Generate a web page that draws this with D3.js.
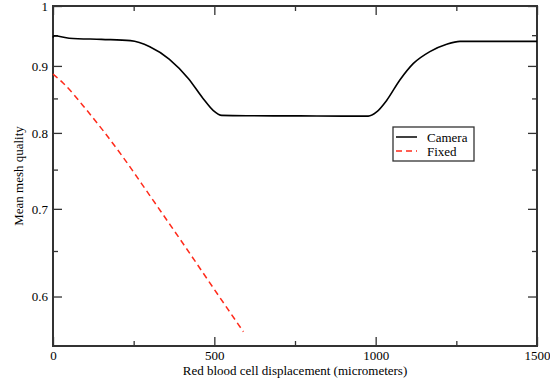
<!DOCTYPE html>
<html>
<head>
<meta charset="utf-8">
<script src="https://cdn.jsdelivr.net/npm/d3@7"></script>
<style>
html,body{margin:0;padding:0;background:#fff;}
svg{display:block;}
text{font-family:"Liberation Serif","Times New Roman",serif;fill:#000;}
</style>
</head>
<body>
<svg id="chart" width="550" height="382"></svg>
<script>
// Data
const cameraX = [0, 3, 50, 150, 240, 300, 360, 420, 465, 497, 523, 600, 765, 900, 977, 1003, 1034, 1075, 1117, 1168, 1220, 1261, 1350, 1500];
const cameraY = [0.946, 0.949, 0.945, 0.943, 0.941, 0.931, 0.911, 0.880, 0.850, 0.832, 0.825, 0.8245, 0.8243, 0.824, 0.824, 0.830, 0.847, 0.878, 0.904, 0.923, 0.935, 0.9397, 0.9397, 0.9397];
const fixedX = [0, 32, 104, 213, 301, 404, 507, 590];
const fixedY = [0.887, 0.873, 0.833, 0.769, 0.716, 0.658, 0.604, 0.564];
const xMajorTicks = [0, 500, 1000, 1500];
const xMinorTicks = [250, 750, 1250];
const yMajorTicks = [0.6, 0.7, 0.8, 0.9, 1];
const yMinorTicks = [0.65, 0.75, 0.85, 0.95];
const seriesNames = ["Camera", "Fixed"];

const svg = d3.select("#chart");
const L = 53, R = 537, T = 6, B = 346;
const x = d3.scaleLinear().domain([0, 1500]).range([L, R]);
const y = d3.scaleLog().domain([0.55, 1]).range([B, T]);

const axisColor = "#333";
const fmtY = d => d === 1 ? "1" : d3.format(".1f")(d);

// axes with inward ticks
const gB = svg.append("g").attr("transform", `translate(0,${B})`)
  .call(d3.axisBottom(x).tickValues(xMajorTicks).tickSizeInner(-9).tickSizeOuter(0).tickPadding(5).tickFormat(d3.format("d")));
const gBm = svg.append("g").attr("transform", `translate(0,${B})`)
  .call(d3.axisBottom(x).tickValues(xMinorTicks).tickSizeInner(-5).tickSizeOuter(0).tickFormat(""));
const gT = svg.append("g").attr("transform", `translate(0,${T})`)
  .call(d3.axisTop(x).tickValues(xMajorTicks).tickSizeInner(-9).tickSizeOuter(0).tickFormat(""));
const gTm = svg.append("g").attr("transform", `translate(0,${T})`)
  .call(d3.axisTop(x).tickValues(xMinorTicks).tickSizeInner(-5).tickSizeOuter(0).tickFormat(""));
const gL = svg.append("g").attr("transform", `translate(${L},0)`)
  .call(d3.axisLeft(y).tickValues(yMajorTicks).tickSizeInner(-9).tickSizeOuter(0).tickPadding(5).tickFormat(fmtY));
const gLm = svg.append("g").attr("transform", `translate(${L},0)`)
  .call(d3.axisLeft(y).tickValues(yMinorTicks).tickSizeInner(-5).tickSizeOuter(0).tickFormat(""));
const gR = svg.append("g").attr("transform", `translate(${R},0)`)
  .call(d3.axisRight(y).tickValues(yMajorTicks).tickSizeInner(-9).tickSizeOuter(0).tickFormat(""));
const gRm = svg.append("g").attr("transform", `translate(${R},0)`)
  .call(d3.axisRight(y).tickValues(yMinorTicks).tickSizeInner(-5).tickSizeOuter(0).tickFormat(""));

[gB, gBm, gT, gTm, gL, gLm, gR, gRm].forEach(g => {
  g.select(".domain").remove();
  g.selectAll(".tick line").attr("stroke", axisColor).attr("stroke-width", 1.3);
  g.selectAll(".tick text").attr("font-family", "Liberation Serif, serif").attr("font-size", 13).attr("fill", "#000");
});

// frame
svg.append("rect").attr("x", L).attr("y", T).attr("width", R - L).attr("height", B - T)
  .attr("fill", "none").attr("stroke", axisColor).attr("stroke-width", 2);

// lines
const lineGen = d3.line().x(d => x(d[0])).y(d => y(d[1])).curve(d3.curveMonotoneX);
svg.append("path").datum(cameraX.map((v, i) => [v, cameraY[i]]))
  .attr("d", lineGen).attr("fill", "none").attr("stroke", "#000").attr("stroke-width", 1.6);
svg.append("path").datum(fixedX.map((v, i) => [v, fixedY[i]]))
  .attr("d", lineGen).attr("fill", "none").attr("stroke", "#ff2a1a").attr("stroke-width", 1.5)
  .attr("stroke-dasharray", "6,4");

// axis labels
svg.append("text").attr("x", (L + R) / 2).attr("y", 375).attr("text-anchor", "middle")
  .attr("font-size", 13).text("Red blood cell displacement (micrometers)");
svg.append("text").attr("transform", `translate(23,${(T + B) / 2}) rotate(-90)`)
  .attr("text-anchor", "middle").attr("font-size", 13).text("Mean mesh quality");

// legend
const lg = svg.append("g");
lg.append("rect").attr("x", 393).attr("y", 127).attr("width", 81).attr("height", 34)
  .attr("fill", "#fff").attr("stroke", axisColor).attr("stroke-width", 1.3);
const styles = [{stroke: "#000", dash: null}, {stroke: "#ff2a1a", dash: "6,4"}];
seriesNames.forEach((n, i) => {
  const yy = 137 + i * 14;
  lg.append("line").attr("x1", 396).attr("x2", 417).attr("y1", yy).attr("y2", yy)
    .attr("stroke", styles[i].stroke).attr("stroke-width", 1.5)
    .attr("stroke-dasharray", styles[i].dash);
  lg.append("text").attr("x", 427).attr("y", yy + 4.5).attr("font-size", 13).text(n);
});
</script>
</body>
</html>
